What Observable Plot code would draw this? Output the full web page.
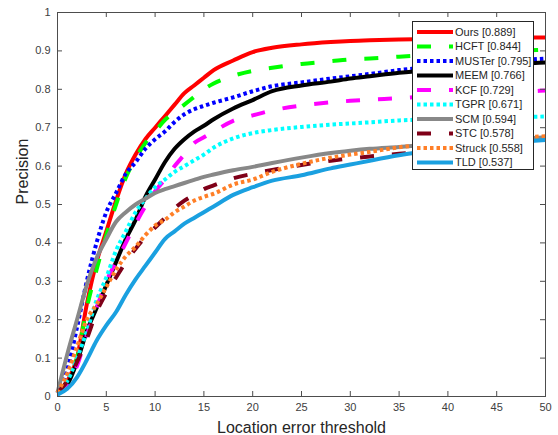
<!DOCTYPE html>
<html>
<head>
<meta charset="utf-8">
<script src="https://cdn.jsdelivr.net/npm/d3@7"></script>
<script src="https://cdn.jsdelivr.net/npm/@observablehq/plot@0.6"></script>
<style>
  html, body { margin: 0; padding: 0; background: #fff; }
  #chart { position: relative; width: 558px; height: 435px; }
</style>
</head>
<body>
<div id="chart"></div>
<script>
// Location error thresholds (x)
const thresholds = [0,1,2,3,4,5,6,7,8,9,10,11,12,13,14,15,16,18,20,22,25,28,30,32,35,40,45,50];

// Trackers (legend order) and precision values
const trackers = ["Ours","HCFT","MUSTer","MEEM","KCF","TGPR","SCM","STC","Struck","TLD"];
const scores   = ["0.889","0.844","0.795","0.766","0.729","0.671","0.594","0.578","0.558","0.537"];

const ours   = [0.01,0.04,0.10,0.24,0.35,0.43,0.51,0.58,0.63,0.67,0.70,0.73,0.76,0.79,0.81,0.83,0.85,0.875,0.897,0.908,0.917,0.923,0.926,0.928,0.93,0.932,0.934,0.935];
const hcft   = [0.01,0.04,0.10,0.23,0.33,0.42,0.50,0.57,0.62,0.66,0.69,0.72,0.74,0.76,0.78,0.80,0.815,0.835,0.848,0.856,0.866,0.873,0.878,0.88,0.885,0.892,0.898,0.903];
const muster = [0.01,0.07,0.18,0.30,0.40,0.48,0.53,0.58,0.61,0.645,0.67,0.69,0.715,0.735,0.748,0.757,0.765,0.779,0.795,0.808,0.818,0.828,0.834,0.84,0.85,0.862,0.872,0.88];
const meem   = [0.01,0.03,0.09,0.17,0.23,0.29,0.35,0.41,0.46,0.52,0.565,0.61,0.645,0.67,0.69,0.705,0.722,0.75,0.772,0.795,0.81,0.82,0.828,0.834,0.843,0.853,0.862,0.87];
const kcf    = [0.01,0.03,0.08,0.16,0.23,0.30,0.35,0.40,0.45,0.495,0.535,0.565,0.60,0.63,0.66,0.675,0.69,0.718,0.732,0.745,0.758,0.766,0.77,0.773,0.777,0.785,0.79,0.797];
const tgpr   = [0.01,0.04,0.10,0.17,0.25,0.31,0.38,0.43,0.48,0.515,0.545,0.565,0.585,0.60,0.615,0.63,0.648,0.672,0.686,0.694,0.702,0.708,0.711,0.714,0.719,0.723,0.727,0.729];
const scm    = [0.01,0.11,0.20,0.29,0.36,0.41,0.455,0.48,0.50,0.515,0.53,0.54,0.548,0.556,0.564,0.572,0.578,0.589,0.598,0.608,0.622,0.634,0.64,0.645,0.65,0.66,0.668,0.675];
const stc    = [0.01,0.04,0.09,0.15,0.22,0.27,0.31,0.35,0.385,0.415,0.44,0.465,0.49,0.51,0.525,0.54,0.55,0.568,0.58,0.59,0.603,0.614,0.62,0.625,0.632,0.645,0.653,0.661];
const struck = [0.01,0.06,0.13,0.20,0.24,0.285,0.33,0.365,0.39,0.42,0.445,0.46,0.48,0.495,0.51,0.52,0.528,0.552,0.565,0.585,0.606,0.622,0.63,0.637,0.649,0.66,0.67,0.678];
const tld    = [0.005,0.02,0.05,0.095,0.145,0.185,0.22,0.265,0.305,0.34,0.375,0.41,0.43,0.45,0.465,0.48,0.495,0.525,0.545,0.562,0.576,0.594,0.604,0.614,0.628,0.645,0.658,0.668];

const xTicks = [0,5,10,15,20,25,30,35,40,45,50];
const yTicks = [0,0.1,0.2,0.3,0.4,0.5,0.6,0.7,0.8,0.9,1];
const xLabel = "Location error threshold";
const yLabel = "Precision";

const seriesValues = [ours,hcft,muster,meem,kcf,tgpr,scm,stc,struck,tld];
const styles = [
  {color:"#ff0000", dash:null,    width:4},
  {color:"#00ff00", dash:"14 18", width:4},
  {color:"#0000ff", dash:"3.5 3", width:4},
  {color:"#000000", dash:null,    width:4},
  {color:"#ff00ff", dash:"14 18", width:4},
  {color:"#00ffff", dash:"3.5 3", width:4},
  {color:"#888888", dash:null,    width:4},
  {color:"#7f0018", dash:"14 18", width:4},
  {color:"#ff7f27", dash:"3.5 3", width:4},
  {color:"#1aa0e0", dash:null,    width:4}
];

const W = 558, H = 435, mL = 57, mR = 13, mT = 12, mB = 39;
const innerW = W - mL - mR, innerH = H - mT - mB;
const axisColor = "#4d4d4d";

const lineMarks = trackers.map((name, i) => {
  const rows = thresholds.map((t, j) => ({x: t, y: seriesValues[i][j]}));
  const s = styles[i];
  return Plot.line(rows, {
    x: "x", y: "y", stroke: s.color, strokeWidth: s.width,
    strokeDasharray: s.dash || undefined, strokeLinecap: "butt", strokeLinejoin: "round",
    curve: "monotone-x"
  });
});

const plot = Plot.plot({
  width: W, height: H,
  marginLeft: mL, marginRight: mR, marginTop: mT, marginBottom: mB,
  style: {fontFamily: "'Liberation Sans', Arial, Helvetica, sans-serif", fontSize: "11px", background: "#fff", overflow: "visible"},
  x: {domain: [0, 50]},
  y: {domain: [0, 1]},
  marks: [
    ...lineMarks,
    Plot.frame({stroke: axisColor, strokeWidth: 1}),
    Plot.tickX(xTicks, {x: d => d, stroke: axisColor, insetTop: innerH - 5}),
    Plot.tickX(xTicks, {x: d => d, stroke: axisColor, insetBottom: innerH - 5}),
    Plot.tickY(yTicks, {y: d => d, stroke: axisColor, insetRight: innerW - 5}),
    Plot.tickY(yTicks, {y: d => d, stroke: axisColor, insetLeft: innerW - 5}),
    Plot.axisX({ticks: xTicks, tickSize: 0, tickPadding: 7, label: null, fill: "#404040", fontSize: 11}),
    Plot.axisY({ticks: yTicks, tickSize: 0, tickPadding: 7, label: null, fill: "#404040", fontSize: 11,
                tickFormat: d => String(+d.toFixed(1))}),
    Plot.text([xLabel], {frameAnchor: "bottom", text: d => d, dy: 31, fontSize: 16, fill: "#262626", lineAnchor: "middle"}),
    Plot.text([yLabel], {frameAnchor: "left", text: d => d, dx: -35, rotate: -90, fontSize: 16, fill: "#262626", lineAnchor: "middle"})
  ]
});

document.getElementById("chart").appendChild(plot);

// Legend drawn inside the SVG (upper right)
const svg = d3.select(plot);
const lg = svg.append("g").attr("font-family", "'Liberation Sans', Arial, sans-serif")
  .attr("font-size", 11).attr("text-anchor", "start");
lg.append("rect").attr("x", 412.5).attr("y", 21.5).attr("width", 121).attr("height", 148)
  .attr("fill", "#fff").attr("stroke", "#262626").attr("stroke-width", 1);
trackers.forEach((name, i) => {
  const y = 32 + i * 14.5;
  const s = styles[i];
  lg.append("line").attr("x1", 417).attr("x2", 453).attr("y1", y).attr("y2", y)
    .attr("stroke", s.color).attr("stroke-width", s.width)
    .attr("stroke-dasharray", s.dash).attr("stroke-linecap", "butt");
  lg.append("text").attr("x", 455).attr("y", y).attr("dy", "0.35em").attr("fill", "#262626")
    .attr("text-anchor", "start")
    .text(`${name} [${scores[i]}]`);
});
</script>
</body>
</html>
